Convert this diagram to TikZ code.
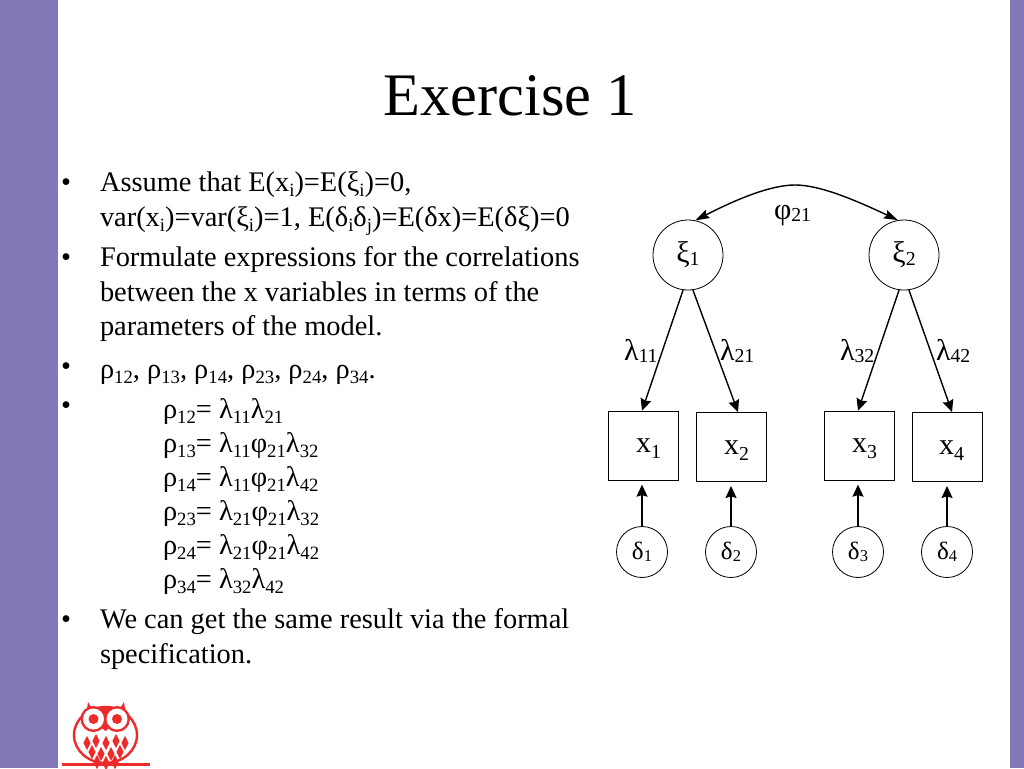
\documentclass[tikz,border=0pt]{standalone}
\usepackage{fontspec}
\setmainfont{Liberation Serif}
\usetikzlibrary{arrows.meta,calc}
\definecolor{band}{HTML}{8278B8}
\definecolor{owl}{HTML}{EE2B2B}
\newcommand{\sbs}[1]{\raisebox{-0.2em}{\fontsize{0.66em}{0.66em}\selectfont #1}}
\newcommand{\sbn}[1]{\raisebox{-0.08em}{\fontsize{0.66em}{0.66em}\selectfont #1}}
\newcommand{\txt}[1]{\fontsize{#1}{#1}\selectfont}
\tikzset{
 x=1pt,y=-1pt,
 body/.style={anchor=base west,inner sep=0pt,outer sep=0pt,font=\txt{28.4}},
 lab/.style={anchor=base west,inner sep=0pt,outer sep=0pt,font=\txt{30}},
 circ/.style={draw,circle,inner sep=0pt,minimum size=70pt,line width=0.8pt,font=\txt{30}},
 dcirc/.style={draw,circle,inner sep=0pt,minimum size=51pt,line width=0.8pt,font=\txt{25}},
 sq/.style={draw,rectangle,inner sep=0pt,minimum width=70pt,minimum height=69pt,line width=0.9pt},
 xlab/.style={anchor=base west,inner sep=0pt,font=\txt{30}},
 arr/.style={-{Stealth[length=12pt,width=11pt,inset=1.5pt]},line width=1.4pt},
 dbl/.style={{Stealth[length=14pt,width=9pt,inset=2pt]}-{Stealth[length=14pt,width=9pt,inset=2pt]},line width=1.4pt},
}
\begin{document}
\begin{tikzpicture}
\useasboundingbox (0,0) rectangle (1024,768);
\fill[white] (0,0) rectangle (1024,768);
\fill[band] (0,0) rectangle (58,768);
\fill[band] (1010,0) rectangle (1024,768);
\node[anchor=base,inner sep=0pt,font=\txt{60.4}] (title) at (510,115) {Exercise 1};
% bullets
\foreach \n/\y in {a/191,b/266,c/375,d/414,e/628}
  \node[body] (bul\n) at (61,\y) {•};
% text
\node[body] (t1) at (100,191) {Assume that E(x\sbs{i})=E(ξ\sbs{i})=0,};
\node[body] (t2) at (100,226) {var(x\sbs{i})=var(ξ\sbs{i})=1, E(δ\sbs{i}δ\sbs{j})=E(δx)=E(δξ)=0};
\node[body] (t3) at (100,266) {Formulate expressions for the correlations};
\node[body] (t4) at (100,301) {between the x variables in terms of the};
\node[body] (t5) at (100,335) {parameters of the model.};
\node[body] (t6) at (100,378) {ρ\sbs{12}, ρ\sbs{13}, ρ\sbs{14}, ρ\sbs{23}, ρ\sbs{24}, ρ\sbs{34}.};
\node[body] (r1) at (163,418) {ρ\sbs{12}= λ\sbs{11}λ\sbs{21}};
\node[body] (r2) at (163,452) {ρ\sbs{13}= λ\sbs{11}φ\sbs{21}λ\sbs{32}};
\node[body] (r3) at (163,486) {ρ\sbs{14}= λ\sbs{11}φ\sbs{21}λ\sbs{42}};
\node[body] (r4) at (163,520) {ρ\sbs{23}= λ\sbs{21}φ\sbs{21}λ\sbs{32}};
\node[body] (r5) at (163,554) {ρ\sbs{24}= λ\sbs{21}φ\sbs{21}λ\sbs{42}};
\node[body] (r6) at (163,588) {ρ\sbs{34}= λ\sbs{32}λ\sbs{42}};
\node[body] (t7) at (100,628) {We can get the same result via the formal};
\node[body] (t8) at (100,663) {specification.};
% diagram
\node[circ] (xi1) at (688,255) {ξ\sbn{1}};
\node[circ] (xi2) at (904,255) {ξ\sbn{2}};
\node[sq] (x1) at (643.5,445.7) {};
\node[sq] (x2) at (731,447) {};
\node[sq] (x3) at (859,445.7) {};
\node[sq] (x4) at (947,447) {};
\node[xlab] (lx1) at (636,452) {x\sbs{1}};
\node[xlab] (lx2) at (724,454.5) {x\sbs{2}};
\node[xlab] (lx3) at (852,452) {x\sbs{3}};
\node[xlab] (lx4) at (939,454.5) {x\sbs{4}};
\node[dcirc] (d1) at (642,552) {δ\sbn{1}};
\node[dcirc] (d2) at (731,552) {δ\sbn{2}};
\node[dcirc] (d3) at (858,552) {δ\sbn{3}};
\node[dcirc] (d4) at (947,552) {δ\sbn{4}};
\draw[dbl] (xi1.78) .. controls (735,200) and (770,185) .. (795,185) .. controls (820,185) and (855,200) .. (xi2.100);
\draw[arr] (xi1.-98) -- ($(x1.north)+(-1.5,0)$);
\draw[arr] (xi1.-82) -- ($(x2.north)+(7,0)$);
\draw[arr] (xi2.-98) -- ($(x3.north)+(-1,0)$);
\draw[arr] (xi2.-82) -- ($(x4.north)+(5,0)$);
\draw[arr,shorten >=4pt] (d1.north) -- (d1.north |- x1.south);
\draw[arr,shorten >=4pt] (d2.north) -- (d2.north |- x2.south);
\draw[arr,shorten >=4pt] (d3.north) -- (d3.north |- x3.south);
\draw[arr,shorten >=4pt] (d4.north) -- (d4.north |- x4.south);
\node[lab] (phi) at (774,219) {φ\sbn{21}};
\node[lab] (l11) at (624,360) {λ\sbn{11}};
\node[lab] (l21) at (720,360) {λ\sbn{21}};
\node[lab] (l32) at (840,360) {λ\sbn{32}};
\node[lab] (l42) at (936,360) {λ\sbn{42}};
% owl
\begin{scope}[owl]
\fill (62,763) rectangle (150,766);
\draw[line width=2.4pt] (105.5,735) ellipse[x radius=31.5pt,y radius=28pt];
\fill (88,702) -- (93,710) .. controls (100,707) and (112,707) .. (119,710) -- (124,702) -- (126,716) -- (86,716) -- cycle;
\fill (93.5,719) circle[radius=13pt];
\fill (117,719) circle[radius=13pt];
\fill[white] (93.5,719) circle[radius=10.5pt];
\fill[white] (117,719) circle[radius=10.5pt];
\fill (93.5,719) circle[radius=5pt];
\fill (117,719) circle[radius=5pt];
\fill (105.5,723) -- (110.5,727) -- (105.5,731) -- (100.5,727) -- cycle;
\foreach \cx/\cy in {87/743,96/741,106/743,116/741,125/743,92/752,101/754,111/754,120/752,97/762,106/763,115/762}
  \fill (\cx,\cy-7) -- (\cx+3.6,\cy) -- (\cx,\cy+7) -- (\cx-3.6,\cy) -- cycle;
\end{scope}
\end{tikzpicture}
\end{document}
